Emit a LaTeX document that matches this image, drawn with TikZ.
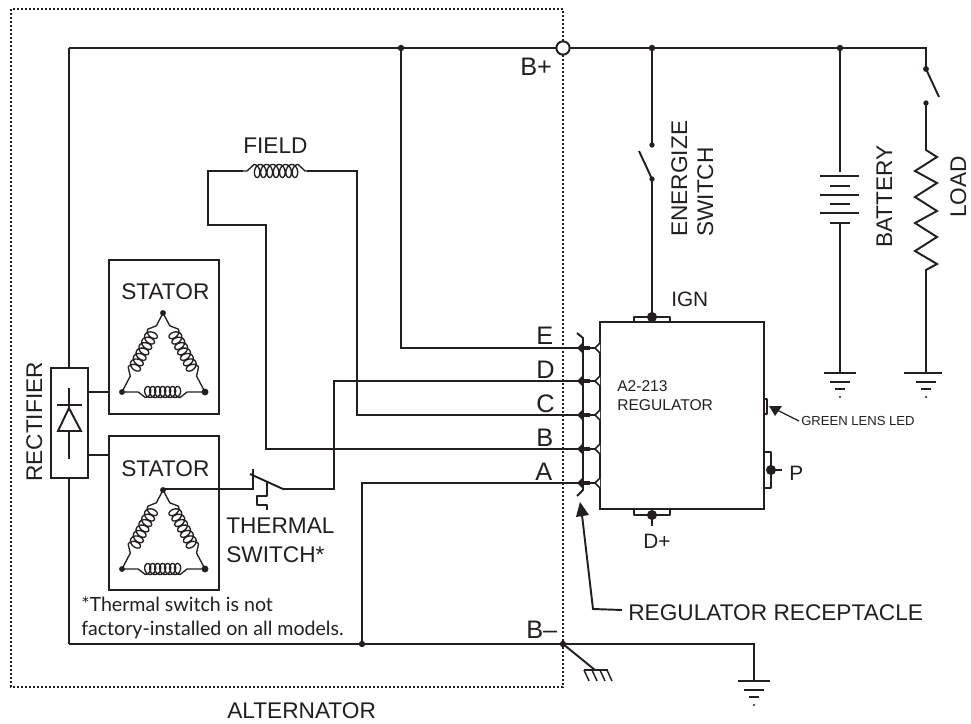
\documentclass[tikz,border=0pt]{standalone}
\usepackage{fontspec}
\setmainfont{Liberation Sans}
\newfontfamily\notefont{Lato}
\usetikzlibrary{calc}
\definecolor{ink}{HTML}{231F20}
\tikzset{
  wire/.style={draw=ink,line width=1.45pt,line join=miter},
  thin wire/.style={draw=ink,line width=1.1pt,line join=round},
  coilline/.style={draw=ink,line width=1pt,line join=round},
  boxnode/.style={draw=ink,line width=1.5pt,inner sep=0pt,fill=white},
  lbl/.style={inner sep=0pt,anchor=base west,text=ink,font=\fontsize{17pt}{18pt}\selectfont},
  big/.style={lbl,font=\fontsize{19pt}{20pt}\selectfont},
  mid/.style={lbl,font=\fontsize{15.6pt}{17pt}\selectfont},
  rlbl/.style={lbl,rotate=90},
  small/.style={lbl,font=\fontsize{11.7pt}{13pt}\selectfont},
  note/.style={lbl,font=\notefont\fontsize{14.7pt}{16pt}\selectfont},
  jdot/.style={fill=ink},
  dottedline/.style={draw=ink,line width=1.1pt,dash pattern=on 1.5pt off 1.5pt}
}
% \coilpath{Px}{Py}{Qx}{Qy}{f0}{f1}{n}{sign}{amp}
\newcommand{\coilpath}[9]{%
  \pgfmathsetmacro{\cdx}{(#3)-(#1)}\pgfmathsetmacro{\cdy}{(#4)-(#2)}%
  \pgfmathsetmacro{\cl}{sqrt(\cdx*\cdx+\cdy*\cdy)}%
  \pgfmathsetmacro{\ux}{\cdx/\cl}\pgfmathsetmacro{\uy}{\cdy/\cl}%
  \pgfmathsetmacro{\ax}{(#1)+#5*\cdx}\pgfmathsetmacro{\ay}{(#2)+#5*\cdy}%
  \pgfmathsetmacro{\lenc}{(#6-#5)*\cl}%
  \pgfmathsetmacro{\Tc}{360*#7}%
  \pgfmathsetmacro{\smp}{int(28*#7)}%
  \draw[coilline] (#1,#2)
    -- ({\ax-7*\ux},{\ay-7*\uy})
    -- plot[domain=0:\Tc,samples=\smp,smooth] ({\ax+\ux*(\lenc*(\x/\Tc)+4.2*sin(\x))-\uy*#8*#9*cos(\x)},{\ay+\uy*(\lenc*(\x/\Tc)+4.2*sin(\x))+\ux*#8*#9*cos(\x)})
    -- ({\ax+\ux*(\lenc+7)},{\ay+\uy*(\lenc+7)})
    -- (#3,#4);%
}
\newcommand{\groundsym}[2]{%
  \draw[wire] (#1-16,#2) -- (#1+16,#2);
  \draw[wire] (#1-10,#2+9) -- (#1+10,#2+9);
  \draw[wire] (#1-5,#2+16) -- (#1+5,#2+16);
  \fill[jdot] (#1,#2+24) circle[radius=.8pt];
}
\begin{document}
\begin{tikzpicture}[x=.75pt,y=-.75pt]
\useasboundingbox (0,0) rectangle (971,724);
\fill[white] (0,0) rectangle (971,724);

% alternator outline
\draw[dottedline] (563,9) -- (11,9) -- (11,687) -- (563,687) -- (563,9);

% named points of the wiring
\coordinate (tl) at (69,48);
\coordinate (plus) at (563,48);
\coordinate (jE) at (401,48);
\coordinate (jIgn) at (652,48);
\coordinate (jBat) at (840,48);
\coordinate (tr) at (926,48);
\coordinate (bl) at (69,644);
\coordinate (jA) at (362,644);
\coordinate (minus) at (563,644);
\coordinate (br) at (754,644);
\coordinate (gndMain) at (754,681);
\coordinate (gndBat) at (840,373);
\coordinate (gndLoad) at (926,373);

% boxes
\node[boxnode,minimum width=27.75pt,minimum height=82.5pt] (rect) at (69.5,423) {};
\node[boxnode,minimum width=82.5pt,minimum height=115.5pt] (st1) at (164,337) {};
\node[boxnode,minimum width=82.5pt,minimum height=115.5pt] (st2) at (164,513) {};

% regulator terminals (behind regulator body)
\draw[thin wire] (634,322) -- (634,317) -- (670,317) -- (670,322);
\draw[thin wire] (634,509) -- (634,515) -- (670,515) -- (670,509);
\draw[thin wire] (764,452) -- (771,452) -- (771,488) -- (764,488);
\draw[thin wire] (764,399) -- (767,399) -- (767,414) -- (764,414);
\node[boxnode,minimum width=123pt,minimum height=140.25pt] (reg) at (682,415.5) {};
\coordinate (ign) at (652,317);
\coordinate (dp) at (652,515);
\coordinate (pt) at (771,470);
\fill[jdot] (ign) circle[radius=3.8pt];
\fill[jdot] (dp) circle[radius=3.8pt];
\fill[jdot] (pt) circle[radius=3.8pt];
\draw[wire] (dp) -- ++(0,11);
\draw[wire] (pt) -- ++(11,0);

% rectifier
\draw[wire] (tl) -- (rect.north -| tl);
\draw[wire] (rect.south -| bl) -- (bl);
\draw[wire] (rect.east |- 0,392) -- (st1.west |- 0,392);
\draw[wire] (rect.east |- 0,455) -- (st2.west |- 0,455);
\draw[wire] (69,388) -- (69,408);
\draw[wire] (69,431) -- (69,459);
\draw[wire] (57,405) -- (82,405);
\draw[wire] (69,408) -- (58,431) -- (81,431) -- cycle;

% bus bars
\draw[wire] (tl) -- (tr);
\draw[wire] (bl) -- (br) -- (gndMain);
\groundsym{754}{681}
\fill[white] (plus) circle[radius=5pt];
\draw[draw=ink,line width=1.5pt] (plus) circle[radius=5pt];
\fill[jdot] (jE) circle[radius=2.4pt];
\fill[jdot] (jIgn) circle[radius=2.4pt];
\fill[jdot] (jBat) circle[radius=2.4pt];
\fill[jdot] (jA) circle[radius=2.4pt];
\fill[jdot] (minus) circle[radius=2.4pt];

% stators
\foreach \dy in {0,177}{
  \coilpath{163}{313+\dy}{122}{392+\dy}{.24}{.72}{7}{1}{6}
  \coilpath{163}{313+\dy}{205}{392+\dy}{.24}{.72}{7}{-1}{6}
  \coilpath{122}{392+\dy}{205}{392+\dy}{.28}{.70}{7}{1}{5.5}
  \fill[ink] (163,313+\dy) circle[radius=2.2pt];
  \fill[ink] (122,392+\dy) circle[radius=2.2pt];
  \fill[ink] (205,392+\dy) circle[radius=2.6pt];
}
\coilpath{240}{171}{310}{171}{.2}{.83}{7}{-1}{6.5}

% regulator wires
\coordinate (rE) at (600,348);
\coordinate (rD) at (600,381);
\coordinate (rC) at (600,415);
\coordinate (rB) at (600,449);
\coordinate (rA) at (600,483);
\draw[wire] (jE) -- (jE |- rE) -- (rE);
\draw[wire] (st2.center |- 0,489) -- (253,489) -- (253,469);
\draw[wire] (250,474) -- (283,489) -- (334,489) |- (rD);
\draw[thin wire] (267,482) -- (267,496) -- (257,496) -- (257,505) -- (267,505) -- (267,510);
\draw[wire] (307,171) -- (357,171) |- (rC);
\draw[wire] (243,171) -- (208,171) -- (208,225) -- (266,225) |- (rB);
\draw[wire] (jA) |- (rA);

% receptacle
\draw[wire] (577,333) -- (583,338) -- (583,490) -- (577,496);
\foreach \yy in {348,381,415,449,483}{
  \fill[ink] (577,\yy) -- (582,\yy-5) -- (585,\yy) -- (582,\yy+5) -- cycle;
  \draw[draw=ink,line width=2.4pt] (583,\yy) -- (590,\yy);
  \fill[white] (595,\yy) -- (600,\yy-5) -- (600,\yy+5) -- cycle;
  \draw[thin wire] (600,\yy-5) -- (595,\yy) -- (600,\yy+5);
}

% energize switch
\coordinate (swA) at (652,145);
\coordinate (swB) at (652,179);
\draw[wire] (jIgn) -- (swA);
\draw[wire] (swB) -- (ign);
\draw[wire] (639,151) -- (swB);
\fill[jdot] (swA) circle[radius=2pt];
\fill[jdot] (swB) circle[radius=2pt];

% battery
\coordinate (batTop) at (840,172);
\coordinate (batBot) at (840,224);
\draw[wire] (jBat) -- (batTop);
\draw[wire] (batBot) -- (gndBat);
\foreach \yy in {176,195,213}{\draw[thin wire] (820,\yy) -- (859,\yy);}
\foreach \yy in {186,204,223}{\draw[thin wire] (830,\yy) -- (850,\yy);}
\draw[wire,line width=2.2pt] (830,213) -- (850,213);
\groundsym{840}{373}

% load
\coordinate (ldA) at (926,69);
\coordinate (ldB) at (926,103);
\draw[wire] (jBat) -- (tr) -- (ldA);
\draw[wire] (ldA) -- (939,97);
\fill[jdot] (ldA) circle[radius=2.2pt];
\fill[jdot] (ldB) circle[radius=2pt];
\draw[wire] (ldB) -- (926,150) -- (937,157) -- (915,171) -- (937,183) -- (915,197) -- (937,211) -- (915,223) -- (937,237) -- (915,251) -- (937,264) -- (926,270) -- (gndLoad);
\groundsym{926}{373}
\draw[wire] (904,373) -- (942,373);

% frame ground
\coordinate (fg) at (595,670);
\draw[wire] (minus) -- (fg);
\draw[wire] (584,670) -- (608,670);
\foreach \xx in {584,592,600,607}{\draw[wire,line width=1.1pt] (\xx,670) -- (\xx+5,681);}

% led arrow
\coordinate (ledTail) at (799,421);
\coordinate (ledTip) at (769,406);
\draw[wire,line width=1pt] (ledTail) -- (777,410);
\fill[ink] (ledTip) -- (782,406) -- (775,416) -- cycle;

% receptacle arrow
\coordinate (arrTip) at (580,502);
\coordinate (arrBend) at (593,609);
\coordinate (arrEnd) at (622,610);
\draw[wire] (arrEnd) -- (arrBend) -- (582,515);
\fill[ink] (arrTip) -- (589,515) -- (576,517) -- cycle;

% labels
\node[big] (tBp) at (520,75) {B+};
\node[big] (tBm) at (526,638) {B–};
\node[lbl] (tField) at (243,153) {FIELD};
\node[lbl] (tS1) at (121,299) {STATOR};
\node[lbl] (tS2) at (121,476) {STATOR};
\node[lbl] (tTh) at (226,533) {THERMAL};
\node[lbl] (tSw) at (226,562) {SWITCH*};
\node[big] (tE) at (536,344) {E};
\node[big] (tD) at (536,378) {D};
\node[big] (tC) at (536,412) {C};
\node[big] (tB) at (536,446) {B};
\node[big] (tA) at (535,480) {A};
\node[mid] (tIgn) at (671,306) {IGN};
\node[mid] (tDp) at (643,548) {D+};
\node[mid] (tP) at (789,480) {P};
\node[small] (tR1) at (617,391) {A2-213};
\node[small] (tR2) at (617,410) {REGULATOR};
\node[small,font=\fontsize{9.8pt}{12pt}\selectfont] (tLed) at (801,425) {GREEN LENS LED};
\node[lbl] (tRec) at (628,620) {REGULATOR RECEPTACLE};
\node[lbl] (tAlt) at (227,718) {ALTERNATOR};
\node[note] (tN1) at (81,611) {*Thermal switch is not};
\node[note] (tN2) at (81,635) {factory-installed on all models.};
\node[rlbl] (tRect) at (42,482) {RECTIFIER};
\node[rlbl] (tEn) at (687,237) {ENERGIZE};
\node[rlbl] (tSw2) at (713,237) {SWITCH};
\node[rlbl] (tBat) at (892,248) {BATTERY};
\node[rlbl] (tLoad) at (966,218) {LOAD};
\end{tikzpicture}
\end{document}
